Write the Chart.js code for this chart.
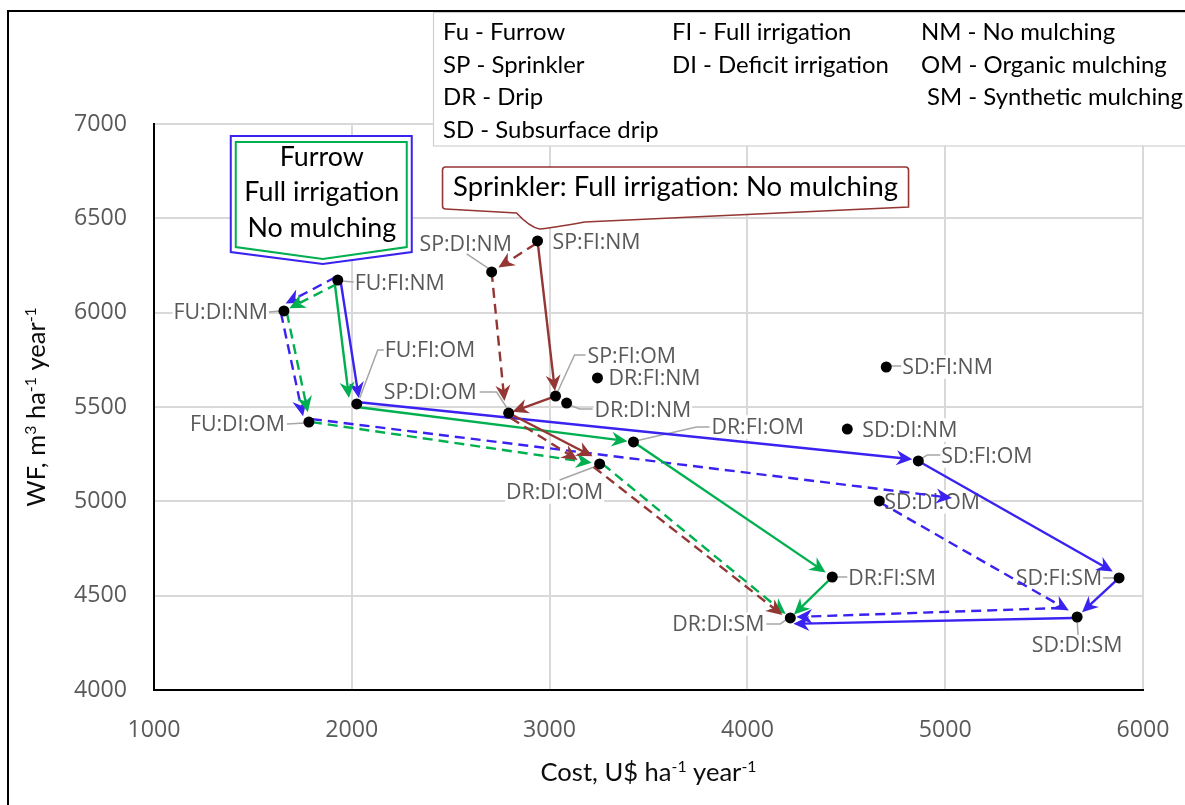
<!DOCTYPE html>
<html>
<head>
<meta charset="utf-8">
<script src="https://cdn.jsdelivr.net/npm/chart.js@4.4.1/dist/chart.umd.min.js"></script>
<style>
  html, body { margin: 0; padding: 0; background: #ffffff; }
  #wrap { width: 1185px; height: 805px; position: relative; }
  canvas { display: block; }
</style>
</head>
<body>
<div id="wrap"><canvas id="chart" width="1185" height="805"></canvas></div>
<script>
// ---- Treatments: irrigation system : irrigation level : mulching ----
const treatments = ['FU:FI:NM','FU:DI:NM','FU:FI:OM','FU:DI:OM',
                    'SP:FI:NM','SP:DI:NM','SP:FI:OM','SP:DI:OM',
                    'DR:FI:NM','DR:DI:NM','DR:FI:OM','DR:DI:OM',
                    'SD:FI:NM','SD:DI:NM','SD:FI:OM','SD:DI:OM',
                    'DR:FI:SM','DR:DI:SM','SD:FI:SM','SD:DI:SM'];
const costUSD        = [1929,1657,2025,1783, 2939,2707,3030,2793, 3242,3086,3424,3253, 4702,4505,4864,4667, 4429,4217,5879,5667];
const waterFootprint = [6173,6009,5516,5420, 6380,6216,5558,5468, 5654,5521,5315,5198, 5712,5383,5214,5002, 4599,4382,4594,4387];

// Axis ranges [min, max, step]
const costRange = [1000, 6000, 1000];
const wfRange   = [4000, 7000, 500];

// Transition paths (each arrow goes from one treatment to the next)
const blueFullPath    = ['FU:FI:NM','FU:FI:OM','SD:FI:OM','SD:FI:SM','SD:DI:SM','DR:DI:SM'];
const blueDeficitPath = ['FU:FI:NM','FU:DI:NM','FU:DI:OM',[5035,5018]];
const blueSubsurface  = ['SD:DI:OM','SD:DI:SM','DR:DI:SM'];
const greenFullPath   = ['FU:FI:NM','FU:FI:OM','DR:FI:OM','DR:FI:SM','DR:DI:SM'];
const greenDeficitPath= ['FU:FI:NM','FU:DI:NM','FU:DI:OM','DR:DI:OM','DR:DI:SM'];
const brownFullPath   = ['SP:FI:NM','SP:FI:OM','SP:DI:OM','DR:DI:OM'];
const brownDeficitPath= ['SP:FI:NM','SP:DI:NM','SP:DI:OM','DR:DI:OM','DR:DI:SM'];

// Abbreviation key
const keySystems = ['Fu - Furrow','SP - Sprinkler','DR - Drip','SD - Subsurface drip'];
const keyLevels  = ['FI - Full irrigation','DI - Deficit irrigation'];
const keyMulch   = ['NM - No mulching','OM - Organic mulching','SM - Synthetic mulching'];

const furrowNote    = ['Furrow','Full irrigation','No mulching'];
const sprinklerNote = 'Sprinkler: Full irrigation: No mulching';

// ---- styles ----
const BLUE = '#3a22f0', GREEN = '#00b050', BROWN = '#943634';
const LABEL_GREY = '#595959', LEADER_GREY = '#a6a6a6';
const CAL = 'Lato', SANS = '"Open Sans"';

const mctx = document.createElement('canvas').getContext('2d');
function fitSize(text, family, width) {
  mctx.font = '100px ' + family;
  return 100 * width / mctx.measureText(text).width;
}
const tickSize   = fitSize('7000', SANS, 53);
const labelSize  = fitSize('FU:FI:NM', SANS, 90);
const keySize    = fitSize('DI - Deficit irrigation', CAL, 217);
const noteSize   = fitSize('Full irrigation', CAL, 155);
const sprinkSize = fitSize(sprinklerNote, CAL, 445);

// Arrow styling per path: dash, and per-segment [dx0, dy0, dx1, dy1, gap] pixel nudges
const arrowStyles = [
  { path: blueFullPath, color: BLUE, dash: false,
    nudge: [[3,2,3,0,6],[0,-2,0,-1,6],[0,0,-2,-4,5],[0,0,2,-2,4],[-4,1,0,6,3]] },
  { path: blueDeficitPath, color: BLUE, dash: true,
    nudge: [[-2,-3,-1,-6,3],[-3,2,-5,-2,4],[3,-3,0,0,0]] },
  { path: blueSubsurface, color: BLUE, dash: true,
    nudge: [[0,1,-4,-4,5],[-16,-9,6,-1,0]] },
  { path: greenFullPath, color: GREEN, dash: false,
    nudge: [[-3,3,-7,0,6],[0,3,0,0,6],[0,0,0,0,8],[0,0,0,0,5]] },
  { path: greenDeficitPath, color: GREEN, dash: true,
    nudge: [[-1,4,0,0,6],[3,2,1,0,10],[3,0,0,0,8],[3,0,0,0,6]] },
  { path: brownFullPath, color: BROWN, dash: false,
    nudge: [[0,0,0,0,5],[0,0,0,0,4],[0,0,0,-4,8]] },
  { path: brownDeficitPath, color: BROWN, dash: true,
    nudge: [[-2,3,0,0,8],[0,0,-3,0,12],[2,5,-22,-4,0],[-6,3,-8,-3,0]] }
];

// Data label placement: text offset from the point, alignment, leader line (relative px)
const labelPlacement = {
  'FU:FI:NM': { dx: 17, dy: 3,   align: 'left',   leader: [[4,1],[16,2]] },
  'FU:DI:NM': { dx: -16, dy: 1,  align: 'right',  leader: [[-4,0],[-15,1]] },
  'FU:FI:OM': { dx: 28, dy: -54, align: 'left',   leader: [[3,-6],[21,-54],[27,-54]] },
  'FU:DI:OM': { dx: -24, dy: 2,  align: 'right',  leader: [[-4,1],[-22,2]] },
  'SP:FI:NM': { dx: 15, dy: 1,   align: 'left',   leader: null },
  'SP:DI:NM': { dx: -26, dy: -28, align: 'center', leader: [[-25,-18],[-4,-4]] },
  'SP:DI:OM': { dx: -32, dy: -21, align: 'right', leader: [[-29,-21],[-12,-21],[-1,-4]] },
  'SP:FI:OM': { dx: 32, dy: -40, align: 'left',   leader: [[30,-41],[19,-41],[2,-4]] },
  'DR:FI:NM': { dx: 11, dy: 0,   align: 'left',   leader: null },
  'DR:DI:NM': { dx: 28, dy: 7,   align: 'left',   leader: [[3,2],[13,6],[26,6]] },
  'DR:FI:OM': { dx: 78, dy: -15, align: 'left',   leader: [[2,-1],[63,-15],[76,-15]] },
  'DR:DI:OM': { dx: -45, dy: 28, align: 'center', leader: [[-3,2],[-40,16]] },
  'SD:FI:NM': { dx: 16, dy: 0,   align: 'left',   leader: [[4,-1],[15,-1]] },
  'SD:DI:NM': { dx: 15, dy: 1,   align: 'left',   leader: null },
  'SD:FI:OM': { dx: 23, dy: -5,  align: 'left',   leader: [[3,-2],[9,-6],[22,-6]] },
  'SD:DI:OM': { dx: 5, dy: 1,    align: 'left',   leader: null },
  'DR:FI:SM': { dx: 16, dy: 1,   align: 'left',   leader: [[4,0],[15,0]] },
  'SD:FI:SM': { dx: -17, dy: 0,  align: 'right',  leader: [[-4,0],[-16,0]] },
  'SD:DI:SM': { dx: 0, dy: 28,   align: 'center', leader: [[0,4],[1,18]] },
  'DR:DI:SM': { dx: -26, dy: 6,  align: 'right',  leader: [[-3,1],[-10,6],[-24,6]] }
};

function pixelOf(chart, node) {
  const sx = chart.scales.x, sy = chart.scales.y;
  if (Array.isArray(node)) return [sx.getPixelForValue(node[0]), sy.getPixelForValue(node[1])];
  const i = treatments.indexOf(node);
  return [sx.getPixelForValue(costUSD[i]), sy.getPixelForValue(waterFootprint[i])];
}

function arrowHead(ctx, x, y, ang, color) {
  const L = 16, W = 7.5, N = 5;
  ctx.save();
  ctx.translate(x, y);
  ctx.rotate(ang);
  ctx.beginPath();
  ctx.moveTo(0, 0);
  ctx.lineTo(-L, -W);
  ctx.lineTo(-L + N, 0);
  ctx.lineTo(-L, W);
  ctx.closePath();
  ctx.fillStyle = color;
  ctx.fill();
  ctx.restore();
}

function drawArrows(chart) {
  const ctx = chart.ctx;
  arrowStyles.forEach(st => {
    for (let s = 0; s < st.path.length - 1; s++) {
      const n = st.nudge[s] || [0,0,0,0,5];
      const a = pixelOf(chart, st.path[s]);
      const b = pixelOf(chart, st.path[s + 1]);
      const x0 = a[0] + n[0], y0 = a[1] + n[1];
      let x1 = b[0] + n[2], y1 = b[1] + n[3];
      const ang = Math.atan2(y1 - y0, x1 - x0);
      x1 -= Math.cos(ang) * n[4];
      y1 -= Math.sin(ang) * n[4];
      ctx.save();
      ctx.strokeStyle = st.color;
      ctx.lineWidth = 2.4;
      ctx.setLineDash(st.dash ? [10, 6] : []);
      ctx.beginPath();
      ctx.moveTo(x0, y0);
      ctx.lineTo(x1 - Math.cos(ang) * 10, y1 - Math.sin(ang) * 10);
      ctx.stroke();
      ctx.restore();
      arrowHead(ctx, x1, y1, ang, st.color);
    }
  });
}

function drawLabels(chart) {
  const ctx = chart.ctx;
  ctx.save();
  ctx.font = labelSize + 'px ' + SANS;
  ctx.textBaseline = 'middle';
  treatments.forEach(name => {
    const p = pixelOf(chart, name);
    const pl = labelPlacement[name];
    const w = ctx.measureText(name).width;
    const tx = p[0] + pl.dx, ty = p[1] + pl.dy;
    let left = pl.align === 'left' ? tx : pl.align === 'right' ? tx - w : tx - w / 2;
    ctx.fillStyle = '#ffffff';
    ctx.fillRect(left - 1, ty - labelSize * 0.55, w + 2, labelSize * 1.1);
    if (pl.leader) {
      ctx.strokeStyle = LEADER_GREY;
      ctx.lineWidth = 1.5;
      ctx.beginPath();
      pl.leader.forEach((q, k) => {
        if (k === 0) ctx.moveTo(p[0] + q[0], p[1] + q[1]);
        else ctx.lineTo(p[0] + q[0], p[1] + q[1]);
      });
      ctx.stroke();
    }
    ctx.fillStyle = LABEL_GREY;
    ctx.textAlign = 'left';
    ctx.fillText(name, left, ty + 1);
  });
  ctx.restore();
}

// text with superscripts: parts = [[text, isSup], ...]
function richWidth(ctx, parts, size, family) {
  let w = 0;
  parts.forEach(([t, sup]) => { ctx.font = (sup ? size * 0.62 : size) + 'px ' + family; w += ctx.measureText(t).width; });
  return w;
}
function drawRich(ctx, parts, x, y, size, family) {
  parts.forEach(([t, sup]) => {
    ctx.font = (sup ? size * 0.62 : size) + 'px ' + family;
    ctx.fillText(t, x, sup ? y - size * 0.36 : y);
    x += ctx.measureText(t).width;
  });
}

const xTitle = [['Cost, U$ ha', false], ['-1', true], [' year', false], ['-1', true]];
const yTitle = [['WF, m', false], ['3', true], [' ha', false], ['-1', true], [' year', false], ['-1', true]];

function drawTitles(chart) {
  const ctx = chart.ctx, ca = chart.chartArea;
  ctx.save();
  ctx.fillStyle = '#0d0d0d';
  ctx.textBaseline = 'alphabetic';
  ctx.textAlign = 'left';
  let size = 20 * 216 / richWidth(ctx, xTitle, 20, CAL);
  let w = richWidth(ctx, xTitle, size, CAL);
  const cx = (ca.left + ca.right) / 2;
  drawRich(ctx, xTitle, cx - w / 2, 781, size, CAL);

  const w2 = richWidth(ctx, yTitle, size, CAL);
  ctx.translate(45, (ca.top + ca.bottom) / 2);
  ctx.rotate(-Math.PI / 2);
  drawRich(ctx, yTitle, -w2 / 2, 0, size, CAL);
  ctx.restore();
}

function drawKey(chart) {
  const ctx = chart.ctx;
  ctx.save();
  ctx.fillStyle = '#ffffff';
  ctx.fillRect(433, 12, 800, 134);
  ctx.strokeStyle = '#d0d0d0';
  ctx.lineWidth = 1.2;
  ctx.strokeRect(433.5, 12.5, 800, 133.5);
  ctx.fillStyle = '#000000';
  ctx.font = keySize + 'px ' + CAL;
  ctx.textBaseline = 'middle';
  ctx.textAlign = 'left';
  const rows = [32, 65, 97, 130];
  keySystems.forEach((t, i) => ctx.fillText(t, 443, rows[i]));
  keyLevels.forEach((t, i) => ctx.fillText(t, 672, rows[i]));
  keyMulch.forEach((t, i) => ctx.fillText(t, i === 2 ? 927 : 921, rows[i]));
  ctx.restore();
}

function drawNotes(chart) {
  const ctx = chart.ctx;
  ctx.save();
  // Furrow note: pentagon pointing down at FU:FI:NM
  const f = pixelOf(chart, 'FU:FI:NM');
  const tx = f[0] - 15, ty = f[1] - 16;
  const shape = (l, r, t, sh, tip) => {
    ctx.beginPath();
    ctx.moveTo(tx + l, ty + t);
    ctx.lineTo(tx + r, ty + t);
    ctx.lineTo(tx + r, ty + sh);
    ctx.lineTo(tx, ty + tip);
    ctx.lineTo(tx + l, ty + sh);
    ctx.closePath();
  };
  shape(-92, 89, -128, -12, 0);
  ctx.fillStyle = '#ffffff';
  ctx.fill();
  ctx.strokeStyle = BLUE;
  ctx.lineWidth = 2;
  ctx.stroke();
  shape(-87, 84, -122, -17, -5);
  ctx.strokeStyle = GREEN;
  ctx.stroke();
  ctx.fillStyle = '#000000';
  ctx.font = noteSize + 'px ' + CAL;
  ctx.textAlign = 'center';
  ctx.textBaseline = 'middle';
  [-107, -72, -36].forEach((dy, i) => ctx.fillText(furrowNote[i], tx - 1, ty + dy));

  // Sprinkler note: wedge callout pointing at SP:FI:NM
  const s = pixelOf(chart, 'SP:FI:NM');
  const px = s[0] + 2, py = s[1] - 12;
  ctx.beginPath();
  ctx.moveTo(px - 94, py - 62);
  ctx.lineTo(px + 366, py - 62);
  ctx.quadraticCurveTo(px + 369, py - 62, px + 369, py - 59);
  ctx.lineTo(px + 369, py - 22);
  ctx.lineTo(px + 45, py - 7);
  ctx.quadraticCurveTo(px + 12, py - 1, px, py);
  ctx.quadraticCurveTo(px - 10, py - 2, px - 23, py - 16);
  ctx.lineTo(px - 94, py - 20);
  ctx.quadraticCurveTo(px - 97, py - 20, px - 97, py - 23);
  ctx.lineTo(px - 97, py - 59);
  ctx.quadraticCurveTo(px - 97, py - 62, px - 94, py - 62);
  ctx.closePath();
  ctx.fillStyle = '#ffffff';
  ctx.fill();
  ctx.strokeStyle = BROWN;
  ctx.lineWidth = 1.6;
  ctx.stroke();
  ctx.fillStyle = '#000000';
  ctx.font = sprinkSize + 'px ' + CAL;
  ctx.fillText(sprinklerNote, px + 136, py - 42);
  ctx.restore();
}

function drawFrame(chart) {
  const ctx = chart.ctx;
  ctx.save();
  ctx.strokeStyle = '#000000';
  ctx.lineWidth = 2;
  ctx.beginPath();
  ctx.moveTo(8, 805);
  ctx.lineTo(8, 11);
  ctx.lineTo(1185, 11);
  ctx.stroke();
  ctx.restore();
}

const overlay = {
  id: 'overlay',
  beforeDatasetsDraw(chart) {
    drawLabels(chart);
    drawArrows(chart);
  },
  afterDraw(chart) {
    drawKey(chart);
    drawNotes(chart);
    drawTitles(chart);
    drawFrame(chart);
  }
};

new Chart(document.getElementById('chart').getContext('2d'), {
  type: 'scatter',
  data: {
    datasets: [{
      label: 'Treatments',
      data: treatments.map((t, i) => ({ x: costUSD[i], y: waterFootprint[i] })),
      pointRadius: 5.5,
      pointHoverRadius: 5.5,
      pointBackgroundColor: '#000000',
      pointBorderWidth: 0
    }]
  },
  options: {
    responsive: false,
    animation: false,
    events: [],
    layout: { padding: { left: 0, right: 42, top: 124, bottom: 0 } },
    plugins: { legend: { display: false }, tooltip: { enabled: false } },
    scales: {
      x: {
        type: 'linear', min: costRange[0], max: costRange[1],
        ticks: { stepSize: costRange[2], color: LABEL_GREY, font: { family: 'Open Sans', size: tickSize },
                 padding: 26, maxRotation: 0, autoSkip: false, callback: v => String(v) },
        grid: { color: '#d9d9d9', lineWidth: 2, drawTicks: false },
        border: { color: '#000000', width: 2 },
        afterFit(s) { s.height = 115; s.paddingLeft = 0; s.paddingRight = 0; }
      },
      y: {
        type: 'linear', min: wfRange[0], max: wfRange[1],
        ticks: { stepSize: wfRange[2], color: LABEL_GREY, font: { family: 'Open Sans', size: tickSize },
                 padding: 27, autoSkip: false, callback: v => String(v) },
        grid: { color: '#d9d9d9', lineWidth: 2, drawTicks: false },
        border: { color: '#000000', width: 2 },
        afterFit(s) { s.width = 154; s.paddingTop = 0; s.paddingBottom = 0; }
      }
    }
  },
  plugins: [overlay]
});
</script>
</body>
</html>
